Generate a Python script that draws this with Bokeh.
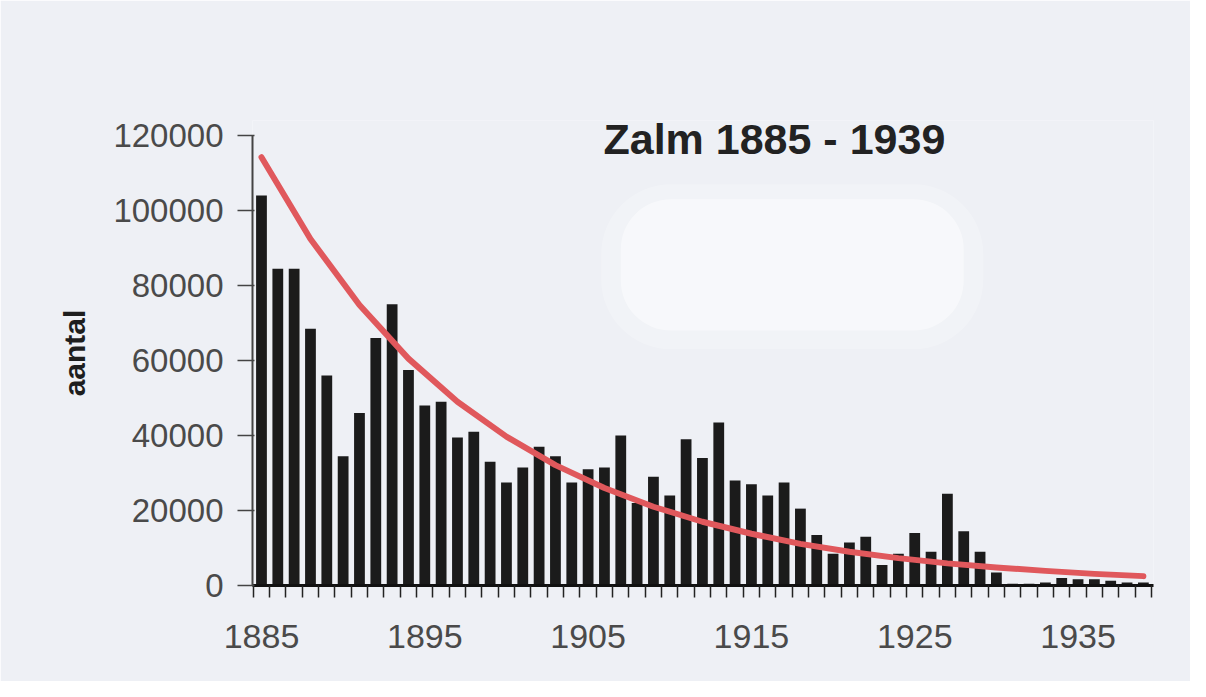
from bokeh.plotting import figure
from bokeh.models import FixedTicker, Range1d, Label, BoxAnnotation, ColumnDataSource, BasicTickFormatter
from bokeh.embed import file_html
from bokeh.resources import INLINE

# ---- data ----
years = list(range(1885, 1940))
counts = [104000, 84500, 84500, 68500, 56000, 34500, 46000, 66000, 75000, 57500,
          48000, 49000, 39500, 41000, 33000, 27500, 31500, 37000, 34500, 27500,
          31000, 31500, 40000, 22000, 29000, 24000, 39000, 34000, 43500, 28000,
          27000, 24000, 27500, 20500, 13500, 8500, 11500, 13000, 5500, 8500,
          14000, 9000, 24500, 14500, 9000, 3500, 500, 500, 800, 2000,
          1700, 1700, 1300, 800, 800]

# red trend curve, read at sample years
trend_years = [1885, 1888, 1891, 1894, 1897, 1900, 1903, 1906, 1909, 1912,
               1915, 1918, 1921, 1924, 1927, 1930, 1933, 1936, 1939]
trend_values = [114200, 92400, 74800, 60500, 49000, 39700, 32100, 26000, 21000, 17000,
                13800, 11100, 9000, 7300, 5900, 4800, 3900, 3100, 2500]

y_ticks = [0, 20000, 40000, 60000, 80000, 100000, 120000]
x_label_years = [1885, 1895, 1905, 1915, 1925, 1935]
title_text = "Zalm 1885 - 1939"
y_label = "aantal"

BG = "#eef0f5"
FONT = "Liberation Sans"

p = figure(width=1190, height=681, output_backend="svg", toolbar_location=None,
           x_range=Range1d(1884.45, 1939.62), y_range=Range1d(0, 124000),
           min_border_left=252, min_border_right=37, min_border_top=120,
           min_border_bottom=96)
p.background_fill_color = BG
p.border_fill_color = BG
p.outline_line_color = None
p.grid.visible = False

# soft white patch in the background
p.add_layout(BoxAnnotation(left=1905.8, right=1929.2, bottom=63000, top=107000,
                           fill_color="white", fill_alpha=0.22, line_color=None,
                           border_radius=70, level="underlay"))
p.add_layout(BoxAnnotation(left=1907.0, right=1928.0, bottom=68000, top=103000,
                           fill_color="white", fill_alpha=0.45, line_color=None,
                           border_radius=50, level="underlay"))

src = ColumnDataSource(dict(year=years, count=counts))
p.vbar(x="year", top="count", bottom=0, width=0.66, source=src,
       fill_color="#1b1b1b", line_color=None)

p.line(trend_years, trend_values, line_color="#e0585c", line_width=6,
       line_cap="round", line_join="round")

# title
p.add_layout(Label(x=1905.94, y=119000, text=title_text, text_font=FONT,
                   text_font_size="43px", text_font_style="bold",
                   text_color="#222222", text_baseline="alphabetic"))

# y axis
ya = p.yaxis[0]
ya.bounds = (0, 120000)
ya.ticker = FixedTicker(ticks=y_ticks)
ya.formatter = BasicTickFormatter(use_scientific=False)
ya.axis_line_color = "#444444"
ya.axis_line_width = 2
ya.major_tick_line_color = "#444444"
ya.major_tick_line_width = 1.5
ya.major_tick_out = 15
ya.major_tick_in = 2
ya.minor_tick_line_color = None
ya.major_label_text_font = FONT
ya.major_label_text_font_size = "33px"
ya.major_label_text_color = "#4a4a4a"
ya.major_label_standoff = 14
ya.axis_label = y_label
ya.axis_label_text_font = FONT
ya.axis_label_text_font_size = "30px"
ya.axis_label_text_font_style = "bold"
ya.axis_label_text_color = "#1e1e1e"
ya.axis_label_standoff = 19

# x axis
xa = p.xaxis[0]
xa.ticker = FixedTicker(ticks=x_label_years,
                        minor_ticks=[y - 0.5 for y in years] + [years[-1] + 0.5])
xa.axis_line_color = "#111111"
xa.axis_line_width = 3
xa.major_tick_line_color = None
xa.major_tick_out = 0
xa.major_tick_in = 0
xa.minor_tick_line_color = "#222222"
xa.minor_tick_line_width = 1.5
xa.minor_tick_out = 12
xa.minor_tick_in = 0
xa.major_label_text_font = FONT
xa.major_label_text_font_size = "34px"
xa.major_label_text_color = "#4a4a4a"
xa.major_label_standoff = 27

open("out.html", "w").write(file_html(p, INLINE))
